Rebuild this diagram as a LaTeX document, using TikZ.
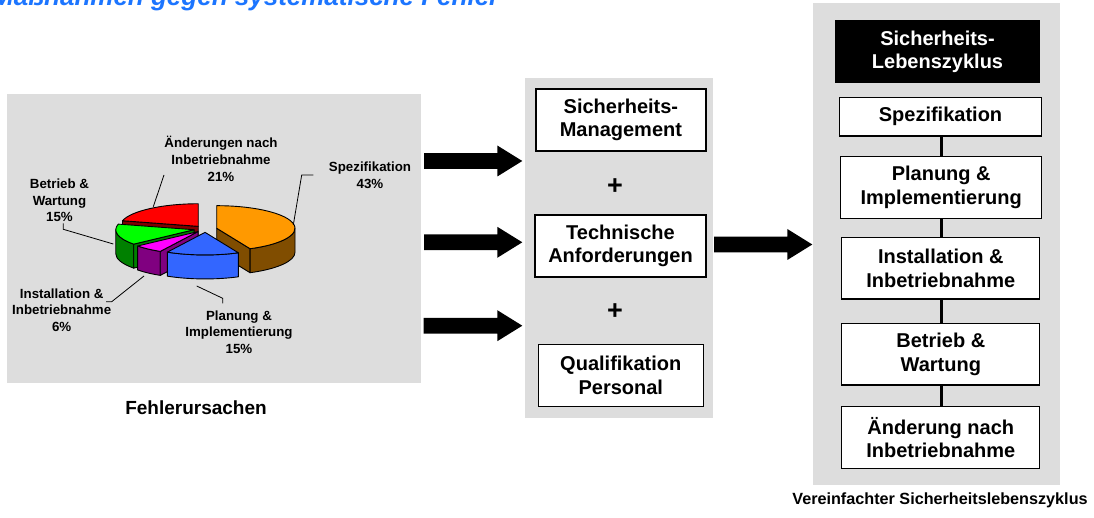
\documentclass[tikz,border=0pt]{standalone}
\usepackage{fontspec}
\setmainfont{Liberation Sans}
\usetikzlibrary{calc}

\definecolor{panel}{RGB}{221,221,221}
\definecolor{titleblue}{RGB}{28,117,255}
\definecolor{spezTop}{RGB}{255,153,0}
\definecolor{spezSide}{RGB}{128,77,0}
\definecolor{planTop}{RGB}{51,102,255}
\definecolor{instTop}{RGB}{255,0,255}
\definecolor{instSide}{RGB}{128,0,128}
\definecolor{betrTop}{RGB}{0,255,0}
\definecolor{betrSide}{RGB}{0,128,0}
\definecolor{aendTop}{RGB}{255,0,0}
\definecolor{aendSide}{RGB}{128,0,0}

% pie geometry: ellipse radii and wall height
\def\pa{78.3}
\def\pb{22.6}
\def\ph{24}

% top face of a slice between two angles
\newcommand\pietop[3]{%
  \filldraw[pieline, fill=#3] (0,0) -- (#1:\pa\space and \pb)
    arc[start angle=#1, end angle=#2, x radius=\pa, y radius=\pb] -- cycle;}
% outer wall of a slice
\newcommand\pieside[3]{%
  \filldraw[pieline, fill=#3] (#1:\pa\space and \pb)
    arc[start angle=#1, end angle=#2, x radius=\pa, y radius=\pb]
    -- ++(0,-\ph)
    arc[start angle=#2, end angle=#1, x radius=\pa, y radius=\pb] -- cycle;}
% radial cut wall of a slice
\newcommand\piecut[2]{%
  \filldraw[pieline, fill=#2] (0,0) -- (#1:\pa\space and \pb) -- ++(0,-\ph)
    -- (0,-\ph) -- cycle;}

% thick block arrow from a start point to a tip point
\newcommand\blockarrow[2]{%
  \fill let \p1=(#1), \p2=(#2), \n1={\x2-\x1-25} in
    (#1) ++(0,-7.8) -- ++(\n1,0) -- ++(0,-7.7) -- (#2) -- ++(-25,15.5)
    -- ++(0,-7.7) -- ++(-\n1,0) -- cycle;}

\tikzset{
  pieline/.style={draw=black, line width=0.9pt, line join=round},
  panelbox/.style={fill=panel, draw=none, inner sep=0pt},
  box/.style={draw=black, line width=1.2pt, fill=white, align=center,
    inner sep=0pt, font=\fontsize{20}{23.5}\selectfont\bfseries},
  darkbox/.style={box, fill=black, text=white},
  plus/.style={font=\fontsize{27}{28}\selectfont\bfseries, inner sep=0pt},
  pielabel/.style={align=center, inner sep=0pt,
    font=\fontsize{13.3}{16.7}\selectfont\bfseries},
  caption/.style={inner sep=0pt, font=\fontsize{19}{22}\selectfont\bfseries},
  leader/.style={draw=black, line width=0.8pt},
  link/.style={draw=black, line width=3pt},
}

\begin{document}
\begin{tikzpicture}[x=1pt, y=-1pt]
  \useasboundingbox (0,0) rectangle (1094,518);
  \clip (0,0) rectangle (1094,518);
  \fill[white] (0,0) rectangle (1094,518);

  % heading
  \node[anchor=base west, inner sep=0pt, text=titleblue,
    font=\fontsize{26}{30}\selectfont\bfseries\itshape] (title) at (-8,6)
    {Maßnahmen gegen systematische Fehler};

  % background panels
  \node[panelbox, minimum width=414pt, minimum height=289pt] (piepanel) at (214,238.5) {};
  \node[panelbox, minimum width=188pt, minimum height=340pt] (midpanel) at (619,248) {};
  \node[panelbox, minimum width=247pt, minimum height=482pt] (lifepanel) at (936.5,244) {};

  % exploded 3D pie
  \begin{scope}[shift={(205.4,229)}, yscale=-1]
    % Änderungen nach Inbetriebnahme
    \begin{scope}[shift={({11.6*cos(127.8)},{3.35*sin(127.8)})}]
      \piecut{165.6}{aendSide}
      \pietop{90}{165.6}{aendTop}
    \end{scope}
    % Betrieb & Wartung
    \begin{scope}[shift={({11.6*cos(192.6)},{3.35*sin(192.6)})}]
      \pieside{180}{219.6}{betrSide}
      \piecut{219.6}{betrSide}
      \pietop{165.6}{219.6}{betrTop}
    \end{scope}
    % Spezifikation
    \begin{scope}[shift={({11.6*cos(12.6)},{3.35*sin(12.6)})}]
      \piecut{-64.8}{spezSide}
      \pieside{-64.8}{0}{spezSide}
      \pietop{-64.8}{90}{spezTop}
    \end{scope}
    % Installation & Inbetriebnahme
    \begin{scope}[shift={({11.6*cos(230.4)},{3.35*sin(230.4)})}]
      \pieside{219.6}{241.2}{instSide}
      \piecut{241.2}{instSide}
      \pietop{219.6}{241.2}{instTop}
    \end{scope}
    % Planung & Implementierung
    \begin{scope}[shift={({11.6*cos(268.2)},{3.35*sin(268.2)})}]
      \pieside{241.2}{295.2}{planTop}
      \pietop{241.2}{295.2}{planTop}
    \end{scope}
  \end{scope}

  % pie labels
  \node[pielabel] (lspez) at (370,175.5) {Spezifikation\\43\%};
  \node[pielabel] (laend) at (221,159) {Änderungen nach\\Inbetriebnahme\\21\%};
  \node[pielabel] (lbetr) at (59.5,200.5) {Betrieb \&\\Wartung\\15\%};
  \node[pielabel] (linst) at (61.7,310) {Installation \&\\Inbetriebnahme\\6\%};
  \node[pielabel] (lplan) at (239,332) {Planung \&\\Implementierung\\15\%};

  % leader lines
  \coordinate (spezA) at (293.3,225);
  \coordinate (spezB) at (301.7,175);
  \coordinate (spezC) at (313.3,175);
  \draw[leader] (spezA) -- (spezB) -- (spezC);
  \coordinate (aendA) at (153.3,206.7);
  \coordinate (aendB) at (164,175);
  \draw[leader] (aendA) -- (aendB);
  \coordinate (betrA) at (113.3,244);
  \coordinate (betrB) at (63.3,229.3);
  \coordinate (betrC) at (63.3,223.3);
  \draw[leader] (betrA) -- (betrB) -- (betrC);
  \coordinate (instA) at (144,276);
  \coordinate (instB) at (111.7,301.7);
  \coordinate (instC) at (106,301.7);
  \draw[leader] (instA) -- (instB) -- (instC);
  \coordinate (planA) at (196.7,286);
  \coordinate (planB) at (222.7,298.3);
  \coordinate (planC) at (222.7,303.3);
  \draw[leader] (planA) -- (planB) -- (planC);

  \node[caption] (piecap) at (196,408) {Fehlerursachen};

  % measures
  \node[box, minimum width=170pt, minimum height=62pt] (mgmt) at (620.9,120) {Sicherheits-\\Management};
  \node[plus] (plus1) at (615,186.7) {+};
  \node[box, minimum width=171pt, minimum height=62pt] (tech) at (620.5,246) {Technische\\Anforderungen};
  \node[plus] (plus2) at (615,311.7) {+};
  \node[box, minimum width=165pt, minimum height=62pt] (qual) at (620.8,375.5) {Qualifikation\\Personal};

  % safety life cycle
  \node[darkbox, minimum width=203pt, minimum height=62pt] (cycle) at (937.5,51.7) {Sicherheits-\\Lebenszyklus};
  \node[box, minimum width=202pt, minimum height=38.3pt] (spez) at (940.5,116.8) {Spezifikation};
  \node[box, minimum width=201pt, minimum height=61.6pt] (plan) at (941.2,187.5) {Planung \&\\Implementierung};
  \node[box, minimum width=198pt, minimum height=61.3pt] (inst) at (940.8,268.3) {Installation \&\\Inbetriebnahme};
  \node[box, minimum width=198pt, minimum height=61.7pt] (betr) at (940.8,354.2) {Betrieb \&\\Wartung};
  \node[box, minimum width=198pt, minimum height=61.6pt] (aend) at (940.8,437.5) {Änderung nach\\Inbetriebnahme};
  \draw[link] (spez.south -| 941.7,0) -- (plan.north -| 941.7,0);
  \draw[link] (plan.south -| 941.7,0) -- (inst.north -| 941.7,0);
  \draw[link] (inst.south -| 941.7,0) -- (betr.north -| 941.7,0);
  \draw[link] (betr.south -| 941.7,0) -- (aend.north -| 941.7,0);

  \node[caption, font=\fontsize{16.2}{19}\selectfont\bfseries] (lifecap) at (940,500)
    {Vereinfachter Sicherheitslebenszyklus};

  % block arrows
  \coordinate (a1s) at (424,161);   \coordinate (a1t) at (522.3,161);
  \coordinate (a2s) at (424,242.3); \coordinate (a2t) at (522.3,242.3);
  \coordinate (a3s) at (423.5,325.7); \coordinate (a3t) at (522.3,325.7);
  \coordinate (a4s) at (714,244.5); \coordinate (a4t) at (812.3,244.5);
  \blockarrow{a1s}{a1t}
  \blockarrow{a2s}{a2t}
  \blockarrow{a3s}{a3t}
  \blockarrow{a4s}{a4t}
\end{tikzpicture}
\end{document}
